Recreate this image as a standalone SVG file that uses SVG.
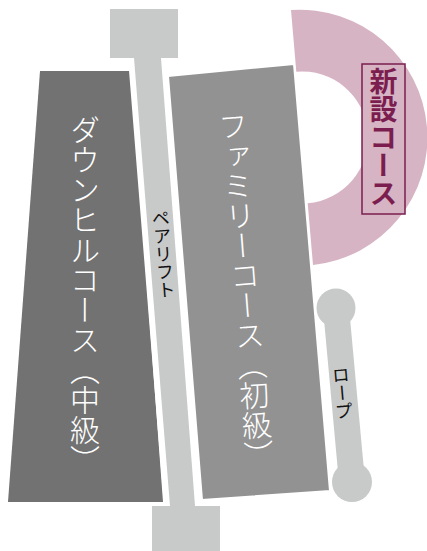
<svg xmlns="http://www.w3.org/2000/svg" width="427" height="551" viewBox="0 0 427 551">
<style>
.vt{font-family:"Noto Sans CJK JP","Noto Sans",sans-serif;writing-mode:vertical-rl;text-anchor:start}
.course{fill:#ffffff;font-size:30px;font-weight:300}
.small{fill:#111111;font-size:18px}
.lift{fill:#c8c9c9}
</style>
<rect width="427" height="551" fill="#ffffff"/>
<g id="new-course">
<path d="M291,10 A128,128 0 0 1 313,265 L307.7,203.3 A66,66 0 0 0 296.3,71.7 Z" fill="#d7b4c4"/>
<rect x="362" y="64" width="43" height="150" fill="#d7b4c4" stroke="#7b1e4f" stroke-width="1.5"/>
<text class="vt" x="383.5" y="67" fill="#7b1e4f" font-size="28" font-weight="700">新設コース</text>
</g>
<g id="downhill">
<polygon points="40,71 131,71 163,502 8,502" fill="#727272"/>
<text class="vt course" x="85" y="115">ダウンヒルコース（中級）</text>
</g>
<g id="family">
<polygon points="168,76 294,64 330,491 202,500" fill="#929292" stroke="#ffffff" stroke-width="2"/>
<text class="vt course" x="232" y="111" transform="rotate(-4.5 232 111)">ファミリーコース（初級）</text>
</g>
<g id="pair-lift">
<polygon class="lift" points="134,58 161,58 195,506 170,506" stroke="#ffffff" stroke-width="12" stroke-linejoin="miter" paint-order="stroke"/>
<rect class="lift" x="110" y="9" width="68" height="49"/>
<rect class="lift" x="152" y="506" width="68" height="45"/>
<text class="vt small" x="160" y="209" transform="rotate(-4.5 160 209)">ペアリフト</text>
</g>
<g id="rope">
<line x1="336" y1="308" x2="352" y2="482" stroke="#c8c9c9" stroke-width="26"/>
<circle class="lift" cx="336" cy="308" r="19.5"/>
<circle class="lift" cx="352" cy="482" r="20"/>
<text class="vt small" x="340" y="366" font-size="17" transform="rotate(-5 340 366)">ロープ</text>
</g>
<g id="connectors"></g>
</svg>
